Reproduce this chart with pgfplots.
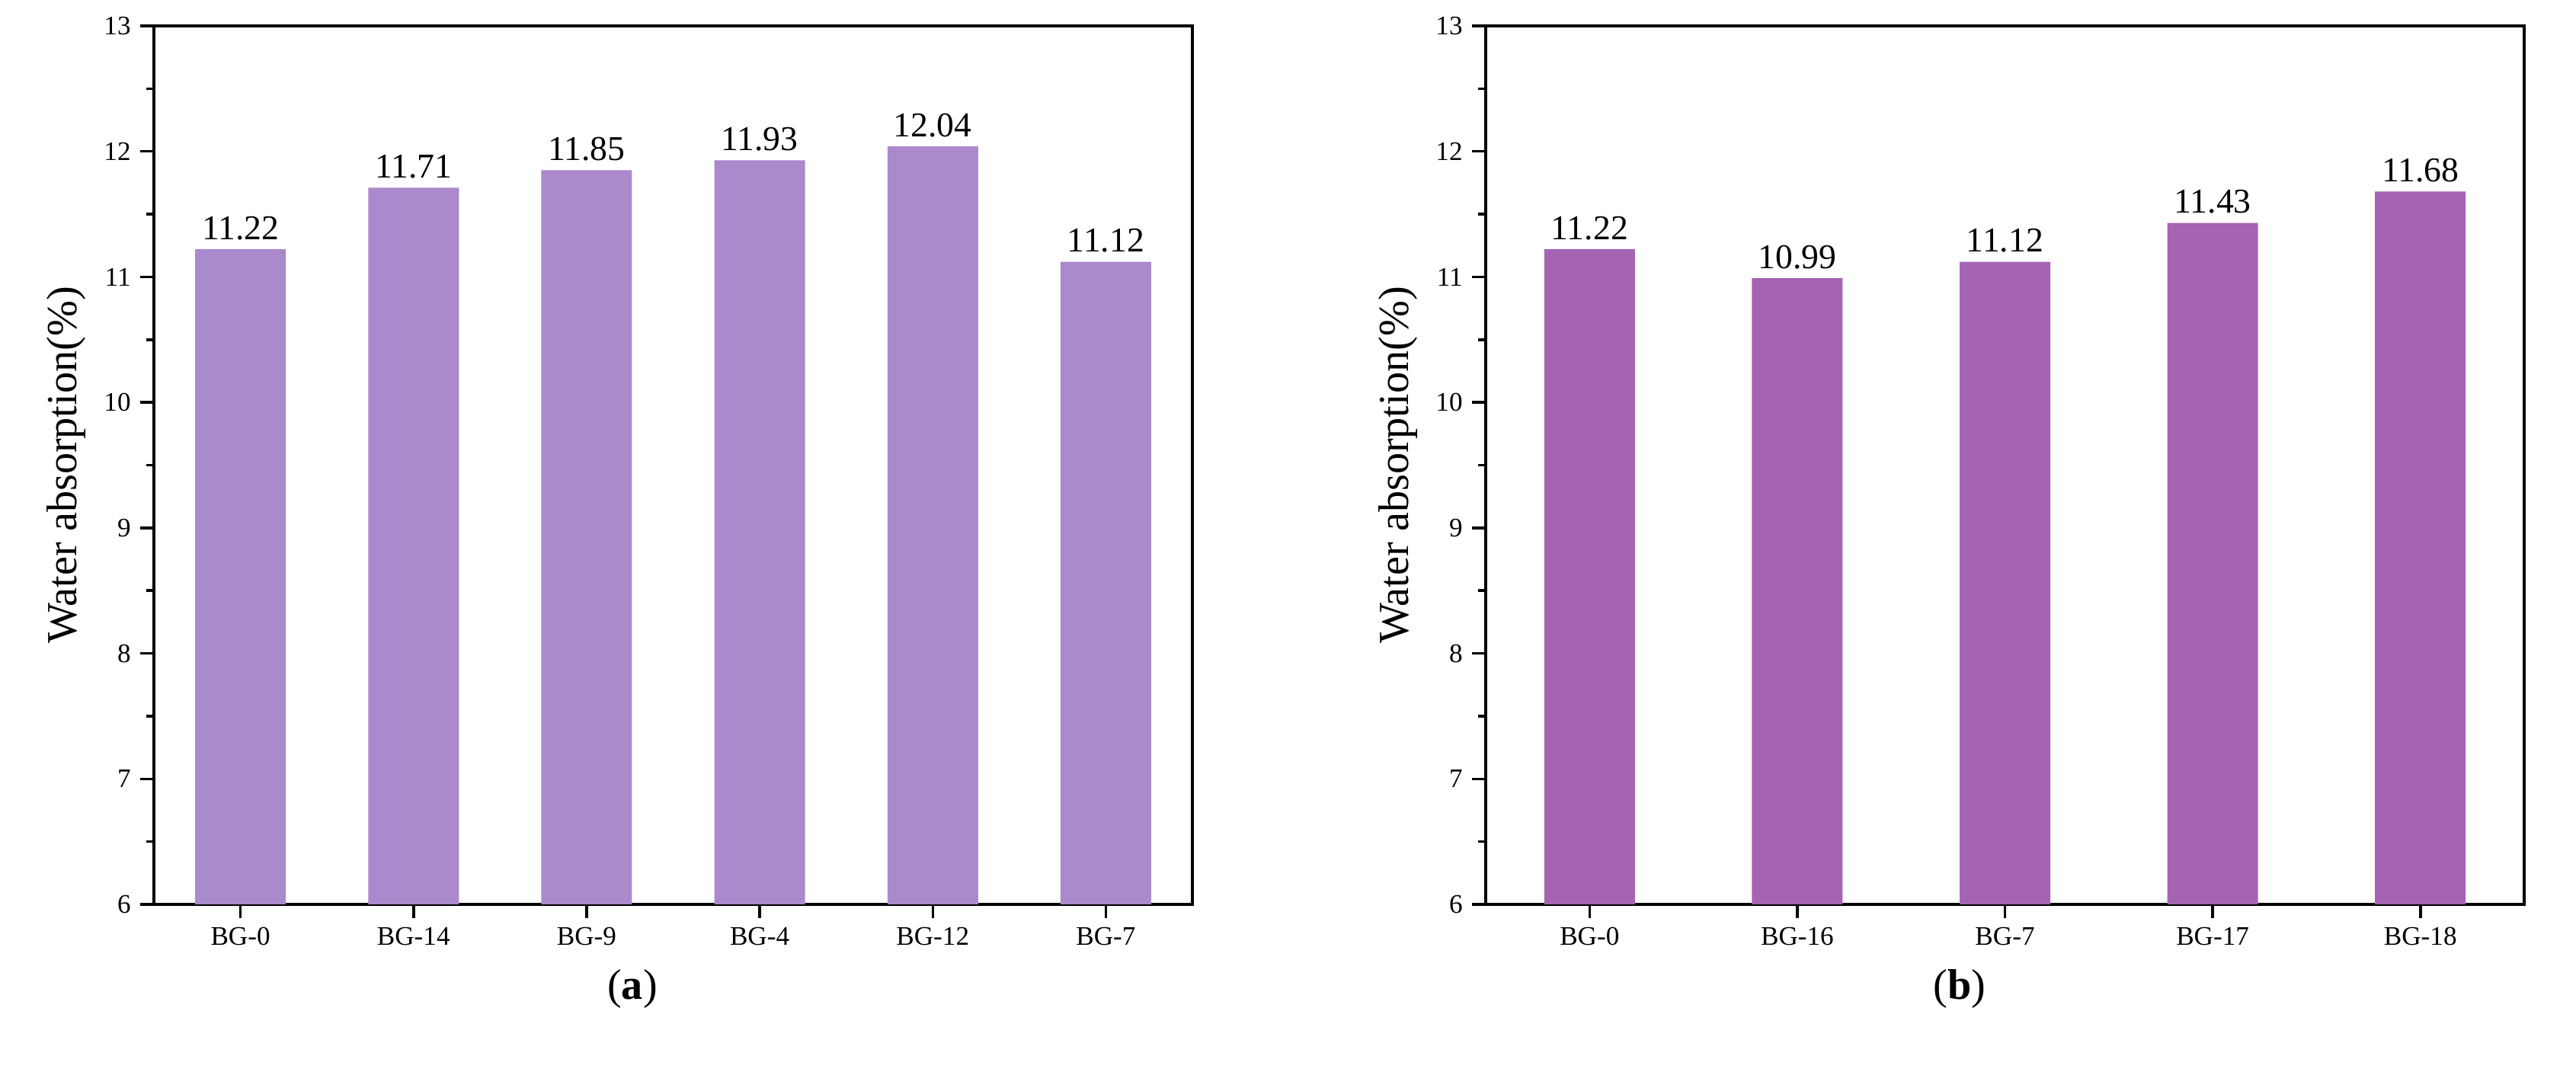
\documentclass[border=0pt]{standalone}
\usepackage{pgfplots}
\pgfplotsset{compat=1.18}
\usepackage{fontspec}
\setmainfont{Liberation Serif}
\definecolor{barA}{HTML}{AA89CC}
\definecolor{barB}{HTML}{A463B3}
\pgfplotsset{
  common/.style={
    scale only axis, width=13.63cm, height=11.53cm,
    anchor=south west, ymin=6, ymax=13, ytick={6,...,13},
    minor y tick num=1,
    axis line style={line width=1.2pt}, tick style={line width=1pt, black},
    major tick length=0.18cm, minor tick length=0.1cm,
    tick align=outside, xtick pos=bottom, ytick pos=left,
    xtick=data,
    ticklabel style={font=\fontsize{10}{12}\selectfont},
    /pgf/number format/assume math mode=true,
    ylabel={Water absorption(\%)}, ylabel style={font=\fontsize{16}{18}\selectfont},
    nodes near coords={\pgfmathprintnumber[fixed,precision=2,fixed zerofill]{\pgfplotspointmeta}},
    nodes near coords style={font=\fontsize{13}{15}\selectfont, black},
    ybar, bar width=1.19cm, enlarge x limits=false,
  }
}
\begin{document}
\begin{tikzpicture}
\path[use as bounding box] (0,0) rectangle (33.81,14.06);
\begin{axis}[common, at={(2.02cm,2.19cm)}, xmin=-0.5, xmax=5.5,
  xticklabels={BG-0,BG-14,BG-9,BG-4,BG-12,BG-7}]
\addplot[fill=barA, draw=none] coordinates {(0,11.22) (1,11.71) (2,11.85) (3,11.93) (4,12.04) (5,11.12)};
\end{axis}
\begin{axis}[common, at={(19.5cm,2.19cm)}, xmin=-0.5, xmax=4.5,
  xticklabels={BG-0,BG-16,BG-7,BG-17,BG-18}]
\addplot[fill=barB, draw=none] coordinates {(0,11.22) (1,10.99) (2,11.12) (3,11.43) (4,11.68)};
\end{axis}
\node[font=\fontsize{16}{18}\selectfont] at (8.30,1.08) {(\textbf{a})};
\node[font=\fontsize{16}{18}\selectfont] at (25.72,1.08) {(\textbf{b})};
\end{tikzpicture}
\end{document}
